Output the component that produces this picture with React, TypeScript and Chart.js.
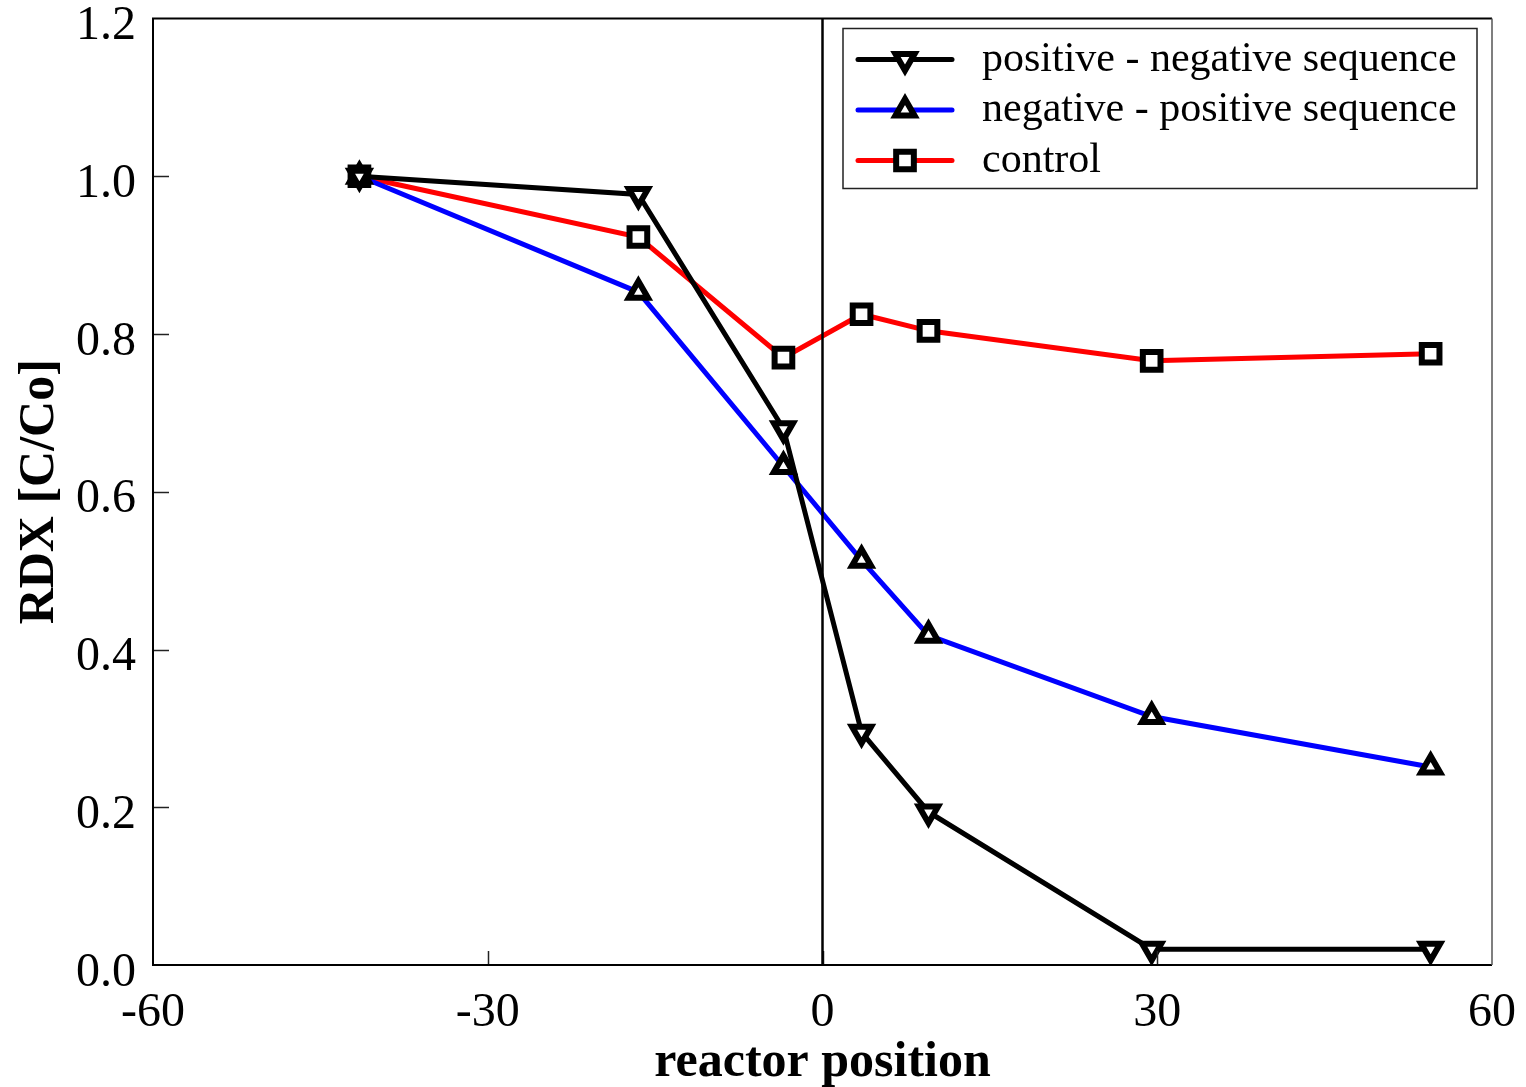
import React, { useEffect, useRef } from 'react';
import { Chart, registerables } from 'chart.js';
import { drawPoint } from 'chart.js/helpers';

Chart.register(...registerables);

// Sampling positions along the reactor (0 = electrode / switch point)
const positions = [-41.5, -16.5, -3.5, 3.5, 9.5, 29.5, 54.5];

// RDX remaining, C/Co
const posNegSequence = [1.0, 0.977, 0.68, 0.295, 0.194, 0.02, 0.02];
const negPosSequence = [1.0, 0.853, 0.632, 0.513, 0.418, 0.315, 0.251];
const controlRun = [1.0, 0.923, 0.77, 0.825, 0.804, 0.766, 0.775];

const seriesLabels = ['positive - negative sequence', 'negative - positive sequence', 'control'];
const seriesColors = ['#000000', '#0000ff', '#ff0000'];

const xTickValues = [-60, -30, 0, 30, 60];
const yTickValues = [0, 0.2, 0.4, 0.6, 0.8, 1.0, 1.2];

const SERIF = '"Liberation Serif", "Times New Roman", Times, serif';

const toPoints = (vals: number[]) => positions.map((x, i) => ({ x, y: vals[i] }));

// Frame, inward tick marks and the x = 0 reference line
const framePlugin = {
  id: 'frameAndTicks',
  afterDatasetsDraw(chart: any) {
    const { ctx, chartArea: a, scales } = chart;
    const xs = scales.x;
    const ys = scales.y;
    ctx.save();
    ctx.strokeStyle = '#222';
    ctx.lineWidth = 1.5;
    yTickValues.slice(1, -1).forEach((v) => {
      const py = Math.round(ys.getPixelForValue(v)) + 0.5;
      ctx.beginPath();
      ctx.moveTo(a.left, py);
      ctx.lineTo(a.left + 16, py);
      ctx.stroke();
    });
    xTickValues.slice(1, -1).forEach((v) => {
      const px = Math.round(xs.getPixelForValue(v)) + 0.5;
      ctx.beginPath();
      ctx.moveTo(px, a.bottom);
      ctx.lineTo(px, a.bottom - 14);
      ctx.stroke();
    });
    const zx = xs.getPixelForValue(0);
    ctx.strokeStyle = '#000';
    ctx.lineWidth = 2.5;
    ctx.beginPath();
    ctx.moveTo(zx, a.top);
    ctx.lineTo(zx, a.bottom);
    ctx.stroke();
    ctx.lineWidth = 2;
    ctx.strokeStyle = '#000';
    ctx.beginPath();
    ctx.moveTo(a.right, a.top);
    ctx.lineTo(a.left, a.top);
    ctx.lineTo(a.left, a.bottom);
    ctx.lineTo(a.right, a.bottom);
    ctx.stroke();
    ctx.strokeStyle = '#555';
    ctx.lineWidth = 1.5;
    ctx.beginPath();
    ctx.moveTo(a.right, a.top);
    ctx.lineTo(a.right, a.bottom);
    ctx.stroke();
    ctx.restore();
  },
};

// Boxed legend with line + marker samples
const legendPlugin = {
  id: 'boxedLegend',
  afterDraw(chart: any) {
    const { ctx, chartArea: a } = chart;
    const w = 634;
    const h = 160;
    const left = a.right - 15 - w;
    const top = a.top + 10;
    ctx.save();
    ctx.fillStyle = '#fff';
    ctx.fillRect(left, top, w, h);
    ctx.strokeStyle = '#222';
    ctx.lineWidth = 1.5;
    ctx.strokeRect(left, top, w, h);
    chart.data.datasets.forEach((ds: any, i: number) => {
      const y = top + 31 + i * 50.5;
      ctx.strokeStyle = ds.borderColor;
      ctx.lineWidth = 5;
      ctx.lineCap = 'round';
      ctx.beginPath();
      ctx.moveTo(left + 15, y);
      ctx.lineTo(left + 109, y);
      ctx.stroke();
      ctx.lineCap = 'butt';
      ctx.fillStyle = '#fff';
      ctx.strokeStyle = '#000';
      ctx.lineWidth = ds.pointBorderWidth;
      drawPoint(
        ctx,
        { pointStyle: ds.pointStyle, rotation: ds.pointRotation || 0, radius: ds.pointRadius, borderWidth: ds.pointBorderWidth },
        left + 62,
        y
      );
      ctx.fillStyle = '#000';
      ctx.font = `42px ${SERIF}`;
      ctx.textBaseline = 'middle';
      ctx.textAlign = 'left';
      ctx.fillText(ds.label, left + 139, y);
    });
    ctx.restore();
  },
};

export default function App() {
  const canvasRef = useRef<HTMLCanvasElement | null>(null);

  useEffect(() => {
    if (!canvasRef.current) return;
    const common = {
      borderWidth: 5,
      pointBackgroundColor: '#ffffff',
      pointBorderColor: '#000000',
      pointBorderWidth: 6,
      tension: 0,
      clip: false as any,
    };
    const chart = new Chart(canvasRef.current, {
      type: 'line',
      data: {
        datasets: [
          {
            ...common,
            label: seriesLabels[0],
            data: toPoints(posNegSequence),
            borderColor: seriesColors[0],
            pointStyle: 'triangle',
            pointRotation: 180,
            pointRadius: 11,
          },
          {
            ...common,
            label: seriesLabels[1],
            data: toPoints(negPosSequence),
            borderColor: seriesColors[1],
            pointStyle: 'triangle',
            pointRadius: 11,
          },
          {
            ...common,
            label: seriesLabels[2],
            data: toPoints(controlRun),
            borderColor: seriesColors[2],
            pointStyle: 'rect',
            pointRadius: 12.5,
          },
        ] as any,
      },
      options: {
        responsive: false,
        animation: false,
        devicePixelRatio: 1,
        layout: { padding: { top: 17, right: 34, left: 0, bottom: 0 } },
        plugins: { legend: { display: false }, tooltip: { enabled: false } },
        scales: {
          x: {
            type: 'linear',
            min: -60,
            max: 60,
            afterBuildTicks: (s: any) => {
              s.ticks = xTickValues.map((value) => ({ value }));
            },
            afterFit: (s: any) => {
              s.height = 122;
            },
            grid: { display: false, drawTicks: false },
            border: { display: false },
            ticks: {
              padding: 0,
              color: '#000',
              font: { family: SERIF, size: 48, lineHeight: 2 },
              maxRotation: 0,
              callback: (v: any) => String(v),
            },
            title: {
              display: true,
              text: 'reactor position',
              color: '#000',
              font: { family: SERIF, size: 50, weight: 'bold', lineHeight: 0.96 },
              padding: { top: 0, bottom: 0 },
            },
          },
          y: {
            type: 'linear',
            min: 0,
            max: 1.2,
            afterBuildTicks: (s: any) => {
              s.ticks = yTickValues.map((value) => ({ value }));
            },
            afterFit: (s: any) => {
              s.width = 153;
            },
            grid: { display: false, drawTicks: false },
            border: { display: false },
            ticks: {
              padding: 17,
              labelOffset: 8,
              color: '#000',
              font: { family: SERIF, size: 48, lineHeight: 0.01 },
              callback: (v: any) => Number(v).toFixed(1),
            },
            title: {
              display: true,
              text: 'RDX [C/Co]',
              color: '#000',
              font: { family: SERIF, size: 50, weight: 'bold', lineHeight: 1 },
              padding: { top: 15, bottom: 0 },
            },
          },
        },
      } as any,
      plugins: [framePlugin, legendPlugin],
    });
    return () => chart.destroy();
  }, []);

  return (
    <div style={{ position: 'absolute', left: 0, top: 0, width: 1526, height: 1087, background: '#fff' }}>
      <canvas ref={canvasRef} width={1526} height={1087} style={{ display: 'block' }} />
    </div>
  );
}
